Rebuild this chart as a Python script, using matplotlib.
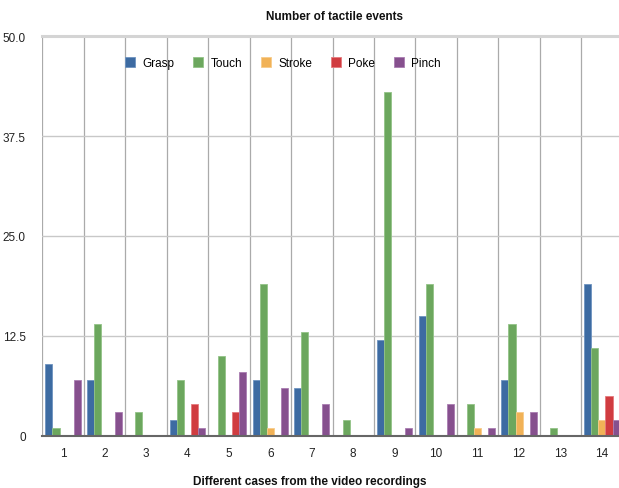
import matplotlib
matplotlib.use("Agg")
import matplotlib.pyplot as plt
import numpy as np
from matplotlib.patches import Patch

cases = ["1", "2", "3", "4", "5", "6", "7", "8", "9", "10", "11", "12", "13", "14"]
grasp = [9, 7, 0, 2, 0, 7, 6, 0, 12, 15, 0, 7, 0, 19]
touch = [1, 14, 3, 7, 10, 19, 13, 2, 43, 19, 4, 14, 1, 11]
stroke = [0, 0, 0, 0, 0, 1, 0, 0, 0, 0, 1, 3, 0, 2]
poke = [0, 0, 0, 4, 3, 0, 0, 0, 0, 0, 0, 0, 0, 5]
pinch = [7, 3, 0, 1, 8, 6, 4, 0, 1, 4, 1, 3, 0, 2]
series_names = ["Grasp", "Touch", "Stroke", "Poke", "Pinch"]
yticks = [0, 12.5, 25.0, 37.5, 50.0]
ytick_labels = ["0", "12.5", "25.0", "37.5", "50.0"]

colors = ["#3D6BA2", "#6CA75E", "#F1B257", "#D03C40", "#86508E"]
edge_colors = ["#6E93C0", "#93C387", "#F7CC8A", "#E57A7D", "#A97DB1"]

plt.rcParams["font.family"] = ["Liberation Sans", "DejaVu Sans"]

fig = plt.figure(figsize=(6.19, 4.89), dpi=100)
ax = fig.add_axes([42.3 / 619, 1 - 437 / 489, (622.7 - 42.3) / 619, 400 / 489])

n = len(cases)
x = np.arange(n)
w = 0.17
all_series = [grasp, touch, stroke, poke, pinch]
for i, (vals, c, ec) in enumerate(zip(all_series, colors, edge_colors)):
    ax.bar(x + (i - 2) * w, vals, width=w, color=c, edgecolor=ec, linewidth=0.6, zorder=3)

ax.set_xlim(-0.5, n - 0.5)
ax.set_ylim(0, 50)

ax.set_xticks(x)
ax.set_xticklabels(cases, fontsize=8.5, color="#222222")
ax.set_xticks(np.arange(n + 1) - 0.5, minor=True)
ax.set_yticks(yticks)
ax.set_yticklabels(ytick_labels, fontsize=8.5, color="#222222")
ax.tick_params(axis="both", which="both", length=0)
ax.tick_params(axis="x", pad=8)
ax.tick_params(axis="y", pad=12)

ax.grid(axis="x", which="minor", color="#AAAAAA", linewidth=0.9, zorder=0)
ax.grid(axis="y", which="major", color="#C8C8C8", linewidth=1.0, zorder=0)

for s in ["left", "right"]:
    ax.spines[s].set_visible(False)
ax.spines["top"].set_color("#D4D4D4")
ax.spines["top"].set_linewidth(2.2)
ax.spines["bottom"].set_color("#666666")
ax.spines["bottom"].set_linewidth(1.5)
ax.spines["bottom"].set_zorder(4)

fig.text(335 / 619, 1 - 17 / 489, "Number of tactile events", ha="center", va="center",
         fontsize=8.5, fontweight="bold", color="#111111")
fig.text(310 / 619, 1 - 482 / 489, "Different cases from the video recordings", ha="center",
         va="center", fontsize=8.5, fontweight="bold", color="#111111")

handles = [Patch(facecolor=c, edgecolor=ec, linewidth=0.6) for c, ec in zip(colors, edge_colors)]
fig.legend(handles, series_names, loc="center", bbox_to_anchor=(283 / 619, 1 - 64 / 489),
           ncol=5, frameon=False, fontsize=8.5, handlelength=0.85, handleheight=0.85,
           handletextpad=0.6, columnspacing=1.6)

fig.savefig("out.png", dpi=100)
